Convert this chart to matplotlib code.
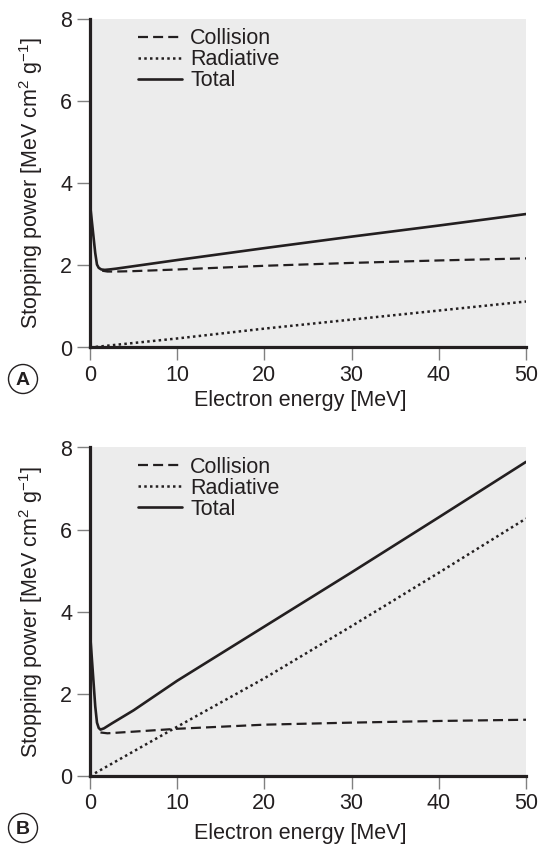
import matplotlib
matplotlib.use("Agg")
import matplotlib.pyplot as plt
from matplotlib.patches import Ellipse

plt.rcParams['font.family'] = ['Liberation Sans', 'DejaVu Sans']
plt.rcParams['mathtext.fontset'] = 'custom'
plt.rcParams['mathtext.rm'] = 'Liberation Sans'
plt.rcParams['mathtext.it'] = 'Liberation Sans'

# ---- Panel A data ----
a_total_x = [0, 0.2, 0.4, 0.6, 0.8, 1.0, 1.3, 1.7, 2.2, 3, 5, 10, 20, 30, 40, 50]
a_total_y = [3.5, 3.1, 2.7, 2.3, 2.02, 1.94, 1.9, 1.89, 1.9, 1.92, 1.98, 2.13, 2.42, 2.70, 2.97, 3.25]
a_coll_x = [1.4, 2, 3, 5, 10, 20, 30, 40, 50]
a_coll_y = [1.87, 1.85, 1.85, 1.86, 1.9, 1.99, 2.06, 2.12, 2.17]
a_rad_x = [0, 10, 20, 30, 40, 50]
a_rad_y = [0, 0.22, 0.46, 0.68, 0.9, 1.12]

# ---- Panel B data ----
b_total_x = [0, 0.2, 0.4, 0.6, 0.8, 1.0, 1.2, 1.6, 2.5, 5, 10, 20, 30, 40, 50]
b_total_y = [3.5, 2.9, 2.3, 1.7, 1.3, 1.17, 1.13, 1.16, 1.28, 1.6, 2.32, 3.64, 4.96, 6.3, 7.65]
b_coll_x = [1.2, 2, 5, 10, 20, 30, 40, 50]
b_coll_y = [1.06, 1.04, 1.08, 1.15, 1.25, 1.3, 1.34, 1.37]
b_rad_x = [0, 5, 10, 20, 30, 40, 50]
b_rad_y = [0, 0.6, 1.2, 2.38, 3.65, 4.95, 6.27]

labels = ['Collision', 'Radiative', 'Total']
x_ticks = [0, 10, 20, 30, 40, 50]
y_ticks = [0, 2, 4, 6, 8]
xlabel = 'Electron energy [MeV]'
ylabel = r'Stopping power [MeV cm$^2$ g$^{-1}$]'
panel_letters = ['A', 'B']

INK = '#231f20'
BG = '#ececec'
FS = 15.5
W, H = 538, 846
AX_H = 328.5
fig = plt.figure(figsize=(W / 100, H / 100), dpi=100)

ax_a = fig.add_axes([90 / W, 1 - 347.5 / H, 436 / W, AX_H / H])
ax_b = fig.add_axes([90 / W, 1 - 776 / H, 436 / W, AX_H / H])

# (axes, collision, radiative, total, axis bottom px, xlabel centre y px, letter centre y px)
panels = [
    (ax_a, (a_coll_x, a_coll_y), (a_rad_x, a_rad_y), (a_total_x, a_total_y), 347.5, 400, 379),
    (ax_b, (b_coll_x, b_coll_y), (b_rad_x, b_rad_y), (b_total_x, b_total_y), 776, 833, 828),
]

for (ax, coll, rad, tot, base, xly, ly), letter in zip(panels, panel_letters):
    ax.set_facecolor(BG)
    l1, = ax.plot(*coll, color=INK, lw=1.6, linestyle=(0, (4.5, 2.3)), label=labels[0])
    l2, = ax.plot(*rad, color=INK, lw=1.8, linestyle=(0, (1.0, 1.3)), label=labels[1])
    l3, = ax.plot(*tot, color=INK, lw=1.9, solid_capstyle='round', label=labels[2])
    ax.set_xlim(0, 50)
    ax.set_ylim(0, 8)
    ax.set_xticks(x_ticks)
    ax.set_yticks(y_ticks)
    for s in ['top', 'right']:
        ax.spines[s].set_visible(False)
    for s in ['left', 'bottom']:
        ax.spines[s].set_linewidth(2.3)
        ax.spines[s].set_color(INK)
    ax.tick_params(axis='y', direction='out', length=9.3, width=1.0, color='#808080',
                   labelsize=FS, labelcolor=INK, pad=3.5)
    ax.tick_params(axis='x', direction='out', length=9.3, width=1.0, color='#808080',
                   labelsize=FS, labelcolor=INK, pad=3.0)
    ax.set_xlabel(xlabel, fontsize=FS, color=INK)
    ax.xaxis.set_label_coords(0.5 - 8 / 436, (base - xly) / AX_H)
    ax.xaxis.label.set_va('center')
    ax.set_ylabel(ylabel, fontsize=FS, color=INK)
    ax.yaxis.set_label_coords((31 - 90) / 436, 0.5)
    ax.yaxis.label.set_va('center')
    leg = ax.legend(handles=[l1, l2, l3], loc='upper left', bbox_to_anchor=(0.11, 0.972),
                    frameon=False, fontsize=FS, handlelength=2.05, handletextpad=0.38,
                    labelspacing=0.0, borderpad=0, borderaxespad=0)
    for t in leg.get_texts():
        t.set_color(INK)
    fig.patches.append(Ellipse((23 / W, 1 - ly / H), 29 / W, 29 / H,
                               transform=fig.transFigure, facecolor='white',
                               edgecolor=INK, lw=1.0))
    fig.text(23 / W, 1 - (ly + 1) / H, letter, ha='center', va='center', fontsize=14,
             fontweight='bold', color=INK)

fig.savefig('out.png', dpi=100)
